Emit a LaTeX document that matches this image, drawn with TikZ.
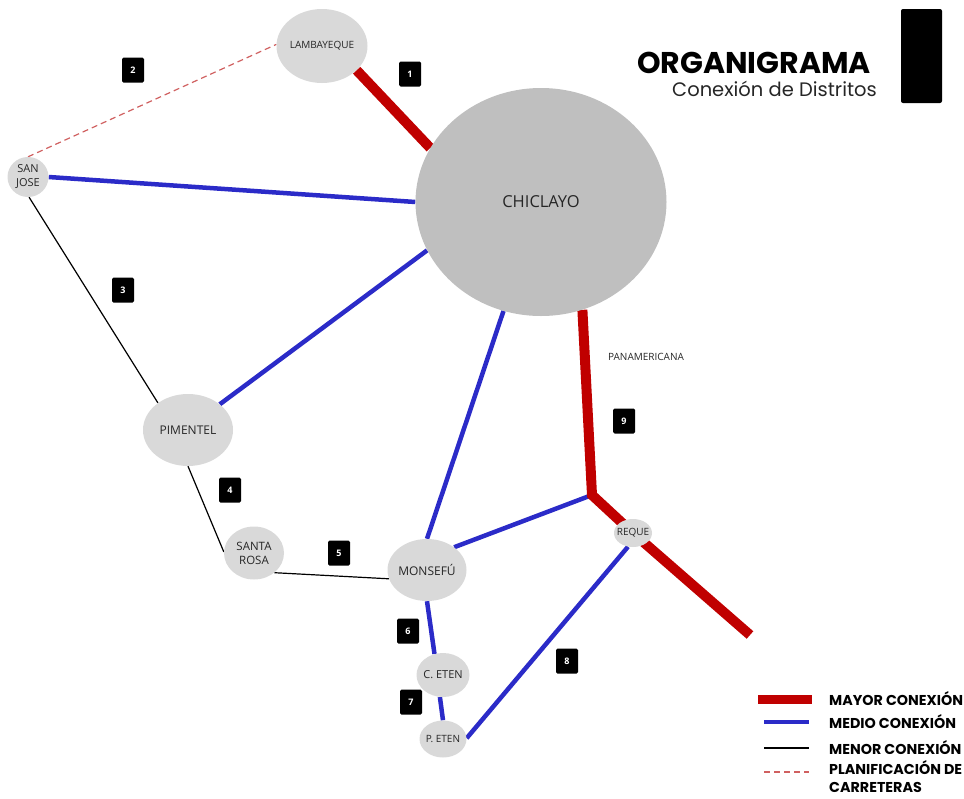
\documentclass[tikz,border=0pt]{standalone}
\usepackage{fontspec}
\setmainfont{Open Sans}
\newfontfamily\titlefont{Poppins}
\usepackage{tikz}
\usetikzlibrary{positioning,shapes.geometric,backgrounds}
\definecolor{mayor}{RGB}{192,0,0}
\definecolor{medio}{RGB}{43,43,200}
\definecolor{plan}{RGB}{208,96,96}
\definecolor{town}{RGB}{217,217,217}
\definecolor{capital}{RGB}{191,191,191}
\definecolor{ink}{RGB}{38,38,38}

\begin{document}
\begin{tikzpicture}[x=1pt, y=-1pt,
	town/.style = {ellipse, fill=town, inner sep=0pt, text=ink, align=center},
	badge/.style = {fill=black, rounded corners=1.5pt, minimum width=22pt, minimum height=25pt, inner sep=0pt, text=white, font=\bfseries\fontsize{9}{9}\selectfont},
	mayorline/.style = {mayor, line width=10pt},
	medioline/.style = {medio, line width=4.5pt},
	menorline/.style = {black, line width=1.2pt},
	planline/.style = {plan, line width=1.2pt, dash pattern=on 6pt off 4pt},
	legend/.style = {anchor=west, inner sep=0pt, align=left, font=\titlefont\bfseries\fontsize{14.3}{18}\selectfont}]
	\useasboundingbox (0,0) rectangle (964,798);

	\node [town, fill=capital, minimum width=251pt, minimum height=228pt, font=\fontsize{16.5}{18}\selectfont] (chic) at (541,202) {CHICLAYO};
	\node [town, minimum width=89pt, minimum height=74pt, font=\fontsize{10}{12}\selectfont] (lamb) at (322,46) {LAMBAYEQUE};
	\node [town, minimum width=41pt, minimum height=40pt, font=\fontsize{11}{14}\selectfont] (sj) at (28,177) {SAN\\JOSE};
	\node [town, minimum width=90pt, minimum height=72pt, font=\fontsize{12}{14}\selectfont] (pim) at (188,430) {PIMENTEL};
	\node [town, minimum width=60pt, minimum height=53pt, font=\fontsize{11.5}{14}\selectfont] (sr) at (254,553) {SANTA\\ROSA};
	\node [town, minimum width=79pt, minimum height=62pt, inner xsep=-1pt, font=\fontsize{12}{14}\selectfont] (mons) at (427,570) {MONSEFÚ};
	\node [town, minimum width=53pt, minimum height=44pt, inner xsep=-2pt, font=\fontsize{11}{13}\selectfont] (ceten) at (443,675) {C. ETEN};
	\node [town, minimum width=47pt, minimum height=37pt, inner xsep=-3pt, font=\fontsize{10}{12}\selectfont] (peten) at (443,739) {P. ETEN};
	\node [town, minimum width=38pt, minimum height=28pt, inner xsep=-4pt, font=\fontsize{10}{12}\selectfont] (reque) at (633,533) {REQUE};
	\coordinate (jn) at (592,495);
	\coordinate (sur) at (750,635);

	\node [text=ink, font=\fontsize{10}{12}\selectfont] (pan) at (646,357) {PANAMERICANA};

	\node [badge] (n1) at (410,74) {1};
	\node [badge] (n2) at (133,70) {2};
	\node [badge] (n3) at (123,290) {3};
	\node [badge] (n4) at (230,490) {4};
	\node [badge] (n5) at (339,553) {5};
	\node [badge] (n6) at (408,631) {6};
	\node [badge] (n7) at (411,702) {7};
	\node [badge] (n8) at (567,661) {8};
	\node [badge] (n9) at (624,421) {9};

	\begin{pgfonlayer}{background}
		\draw [menorline] (sj.273) -- (pim.138);
		\draw [menorline] (pim.270) -- (sr.178);
		\draw [menorline] (sr.316) -- (mons.193);
		\draw [planline] (sj.90) -- (lamb.178);
		\draw [medioline] (sj.0) -- (chic.180);
		\draw [medioline] (pim.39) -- (chic.203);
		\draw [medioline] (mons.90) -- (chic.251);
		\draw [medioline] (mons.40) -- (jn);
		\draw [medioline] (mons.270) -- (ceten.112);
		\draw [medioline] (ceten.262) -- (peten.90);
		\draw [medioline] (peten.2) -- (reque.250);
		\draw [mayorline] (lamb.-35) -- (chic.154);
		\draw [mayorline, line join=miter] (chic.291) -- (jn) -- (reque.center) -- (sur);
	\end{pgfonlayer}

	\node [anchor=base east, inner sep=0pt, font=\titlefont\bfseries\fontsize{30}{30}\selectfont] (title) at (871,73) {ORGANIGRAMA};
	\node [anchor=base east, inner sep=0pt, text=ink, font=\titlefont\fontsize{19.5}{19.5}\selectfont] (subtitle) at (877,96) {Conexión de Distritos};
	\node [fill=black, rounded corners=2pt, minimum width=41pt, minimum height=94pt, inner sep=0pt] (bar) at (921.5,56) {};

	\draw [mayorline, line width=9pt] (758,699) -- (812,699);
	\draw [medioline, line width=4pt] (764,722) -- (809,722);
	\draw [menorline] (764,748) -- (809,748);
	\draw [planline] (764,772) -- (809,772);
	\node [legend] (lmayor) at (829,699) {MAYOR CONEXIÓN};
	\node [legend] (lmedio) at (829,722) {MEDIO CONEXIÓN};
	\node [legend] (lmenor) at (829,748) {MENOR CONEXIÓN};
	\node [legend] (lplan) at (829,777) {PLANIFICACIÓN DE\\CARRETERAS};
\end{tikzpicture}
\end{document}
